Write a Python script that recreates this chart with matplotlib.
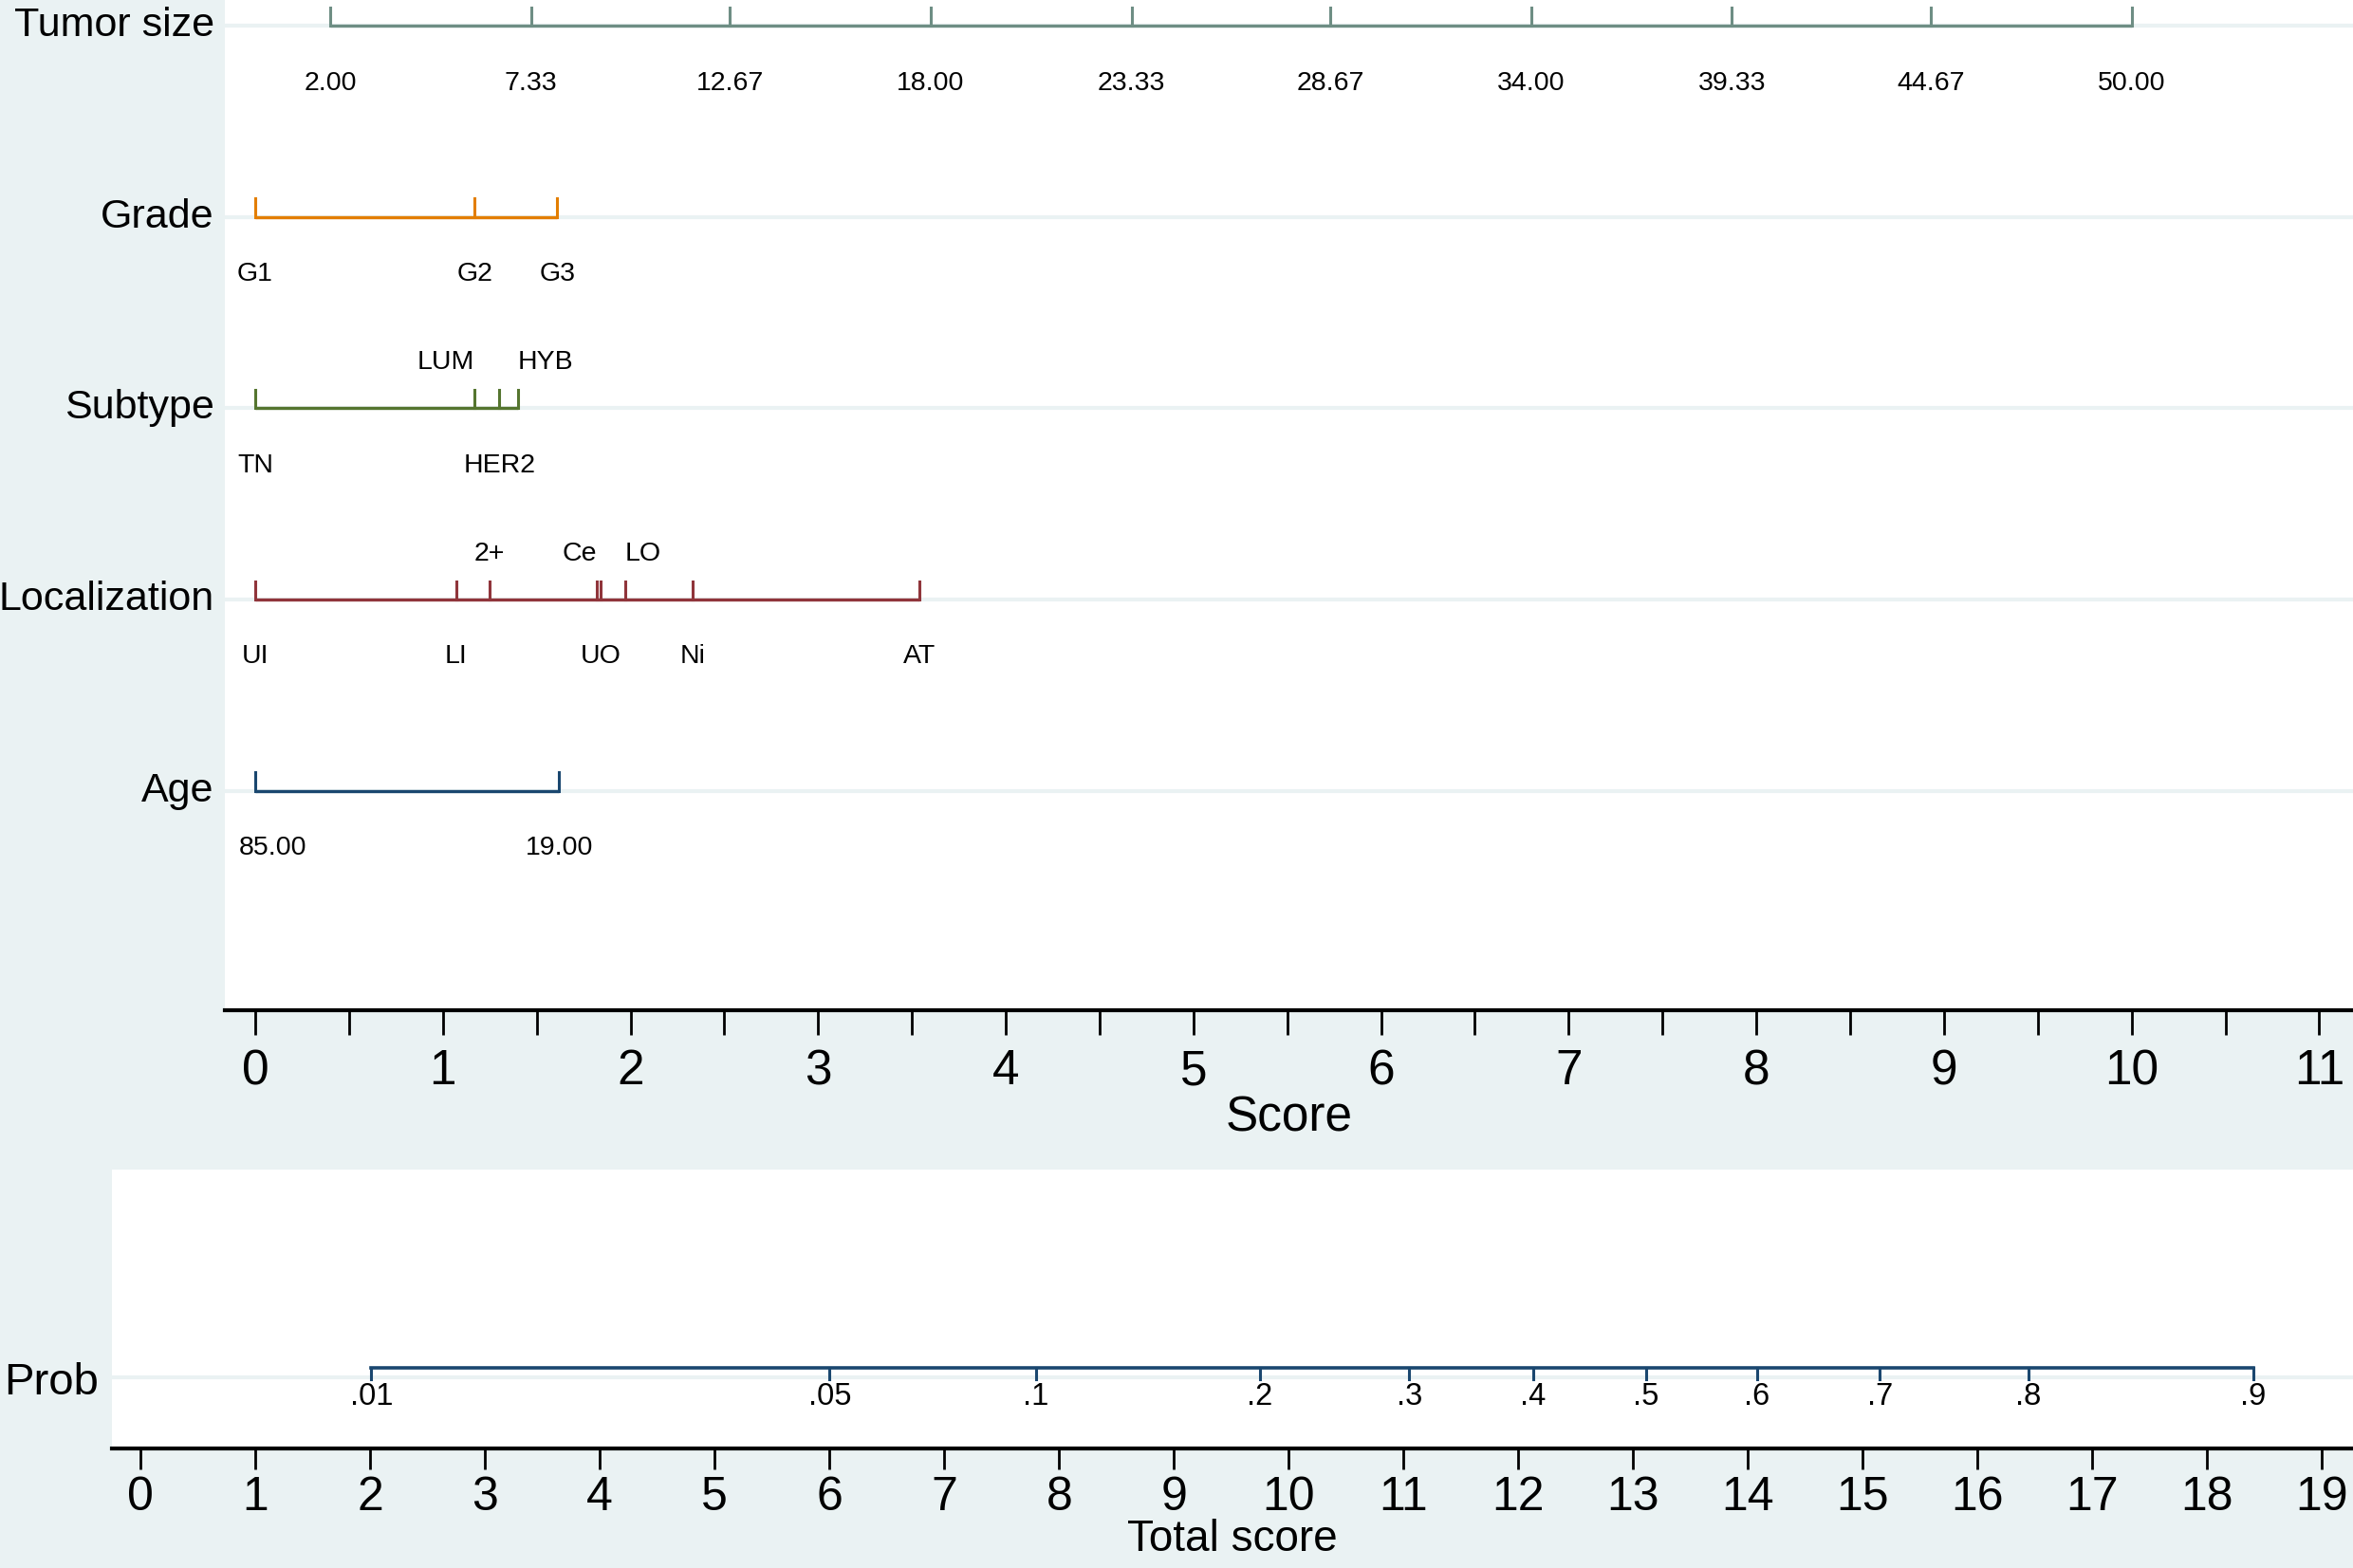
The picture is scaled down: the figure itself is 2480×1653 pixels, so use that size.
import matplotlib
matplotlib.use('Agg')
import matplotlib.pyplot as plt
from matplotlib.transforms import blended_transform_factory

plt.rcParams['font.family'] = ['Liberation Sans Narrow', 'Liberation Sans', 'DejaVu Sans']

# ---- data ----
row_names = ['Tumor size', 'Grade', 'Subtype', 'Localization', 'Age']

tumor_labels = ['2.00', '7.33', '12.67', '18.00', '23.33', '28.67', '34.00', '39.33', '44.67', '50.00']
tumor_scores = [0.40, 1.47, 2.53, 3.60, 4.67, 5.73, 6.80, 7.87, 8.93, 10.00]

grade_labels = ['G1', 'G2', 'G3']
grade_scores = [0.0, 1.17, 1.61]

subtype_labels = ['TN', 'LUM', 'HER2', 'HYB']
subtype_scores = [0.0, 1.17, 1.30, 1.40]

local_labels = ['UI', 'LI', '2+', 'Ce', 'UO', 'LO', 'Ni', 'AT']
local_scores = [0.0, 1.07, 1.25, 1.82, 1.84, 1.97, 2.33, 3.54]

age_labels = ['85.00', '19.00']
age_scores = [0.0, 1.62]

prob_labels = ['.01', '.05', '.1', '.2', '.3', '.4', '.5', '.6', '.7', '.8', '.9']
prob_scores = [2.01, 6.00, 7.80, 9.75, 11.05, 12.13, 13.11, 14.08, 15.15, 16.44, 18.40]

# label placement: 'b' below the line, 'a' above; horizontal alignment
subtype_side = ['b', 'a', 'b', 'a']
subtype_ha = ['center', 'right', 'center', 'left']
local_side = ['b', 'b', 'a', 'a', 'b', 'a', 'b', 'b']
local_ha = ['center', 'center', 'center', 'right', 'center', 'left', 'center', 'center']
age_ha = ['left', 'center']

bg = '#eaf2f3'
colors = ['#6e8e84', '#e37e00', '#55752f', '#90353b', '#1a476f']
navy = '#1a476f'

rows = [
    (tumor_labels, tumor_scores, ['b'] * 10, ['center'] * 10),
    (grade_labels, grade_scores, ['b'] * 3, ['center'] * 3),
    (subtype_labels, subtype_scores, subtype_side, subtype_ha),
    (local_labels, local_scores, local_side, local_ha),
    (age_labels, age_scores, ['b'] * 2, age_ha),
]

fig = plt.figure(figsize=(24.8, 16.53), dpi=100, facecolor=bg)

# ---- top panel: points per predictor ----
ax = fig.add_axes([237 / 2480, 1 - 1065 / 1653, (2480 - 237) / 2480, 1065 / 1653])
ax.set_facecolor('white')
ax.set_xlim(-0.162, 11.18)
ax.set_ylim(-0.148, 5.134)

tick_h = 0.095
for i, (name, (labs, pts, sides, has), col) in enumerate(zip(row_names, rows, colors)):
    y = 5 - i
    ax.axhline(y, color=bg, lw=3, zorder=1)
    ax.plot([pts[0], pts[-1]], [y, y], color=col, lw=2.4, solid_capstyle='butt', zorder=3)
    for lab, p, s, ha in zip(labs, pts, sides, has):
        ax.plot([p, p], [y, y + tick_h], color=col, lw=2.2, zorder=3)
        ty = y - 0.30 if s == 'b' else y + 0.24
        xoff = -0.085 if ha == 'left' and name == 'Age' else 0
        ax.text(p + xoff, ty, lab, ha=ha, va='center', fontsize=20.5)
    tr = blended_transform_factory(ax.transAxes, ax.transData)
    ax.text(-0.005, y, name, transform=tr, ha='right', va='center', fontsize=31)

ax.set_xticks([x * 0.5 for x in range(23)])
ax.set_xticklabels([str(x // 2) if x % 2 == 0 else '' for x in range(23)], fontsize=37)
ax.set_yticks([])
for sp in ['top', 'right', 'left']:
    ax.spines[sp].set_visible(False)
ax.spines['bottom'].set_linewidth(3)
ax.tick_params(axis='x', length=19, width=2, pad=10)
ax.set_xlabel('Score', fontsize=37, labelpad=0)

# ---- bottom panel: total score to probability ----
ax2 = fig.add_axes([118 / 2480, 1 - 1527 / 1653, (2480 - 118) / 2480, (1527 - 1233) / 1653])
ax2.set_facecolor('white')
ax2.set_xlim(-0.25, 19.27)
ax2.set_ylim(0, 1)
ax2.axhline(0.255, color=bg, lw=3, zorder=1)
ax2.plot([prob_scores[0], prob_scores[-1]], [0.289, 0.289], color=navy, lw=2.6, zorder=3)
for lab, p in zip(prob_labels, prob_scores):
    ax2.plot([p, p], [0.289, 0.25], color=navy, lw=2.2, zorder=3)
    ax2.text(p, 0.185, lab, ha='center', va='center', fontsize=23.5)
ax2.text(-0.006, 0.235, 'Prob', transform=ax2.transAxes, ha='right', va='center', fontsize=34)

ax2.set_xticks(range(20))
ax2.set_xticklabels([str(x) for x in range(20)], fontsize=36)
ax2.set_yticks([])
for sp in ['top', 'right', 'left']:
    ax2.spines[sp].set_visible(False)
ax2.spines['bottom'].set_linewidth(3)
ax2.tick_params(axis='x', length=16, width=2, pad=5)
ax2.set_xlabel('Total score', fontsize=33, labelpad=-1)

fig.savefig('out.png', dpi=100, facecolor=bg)
